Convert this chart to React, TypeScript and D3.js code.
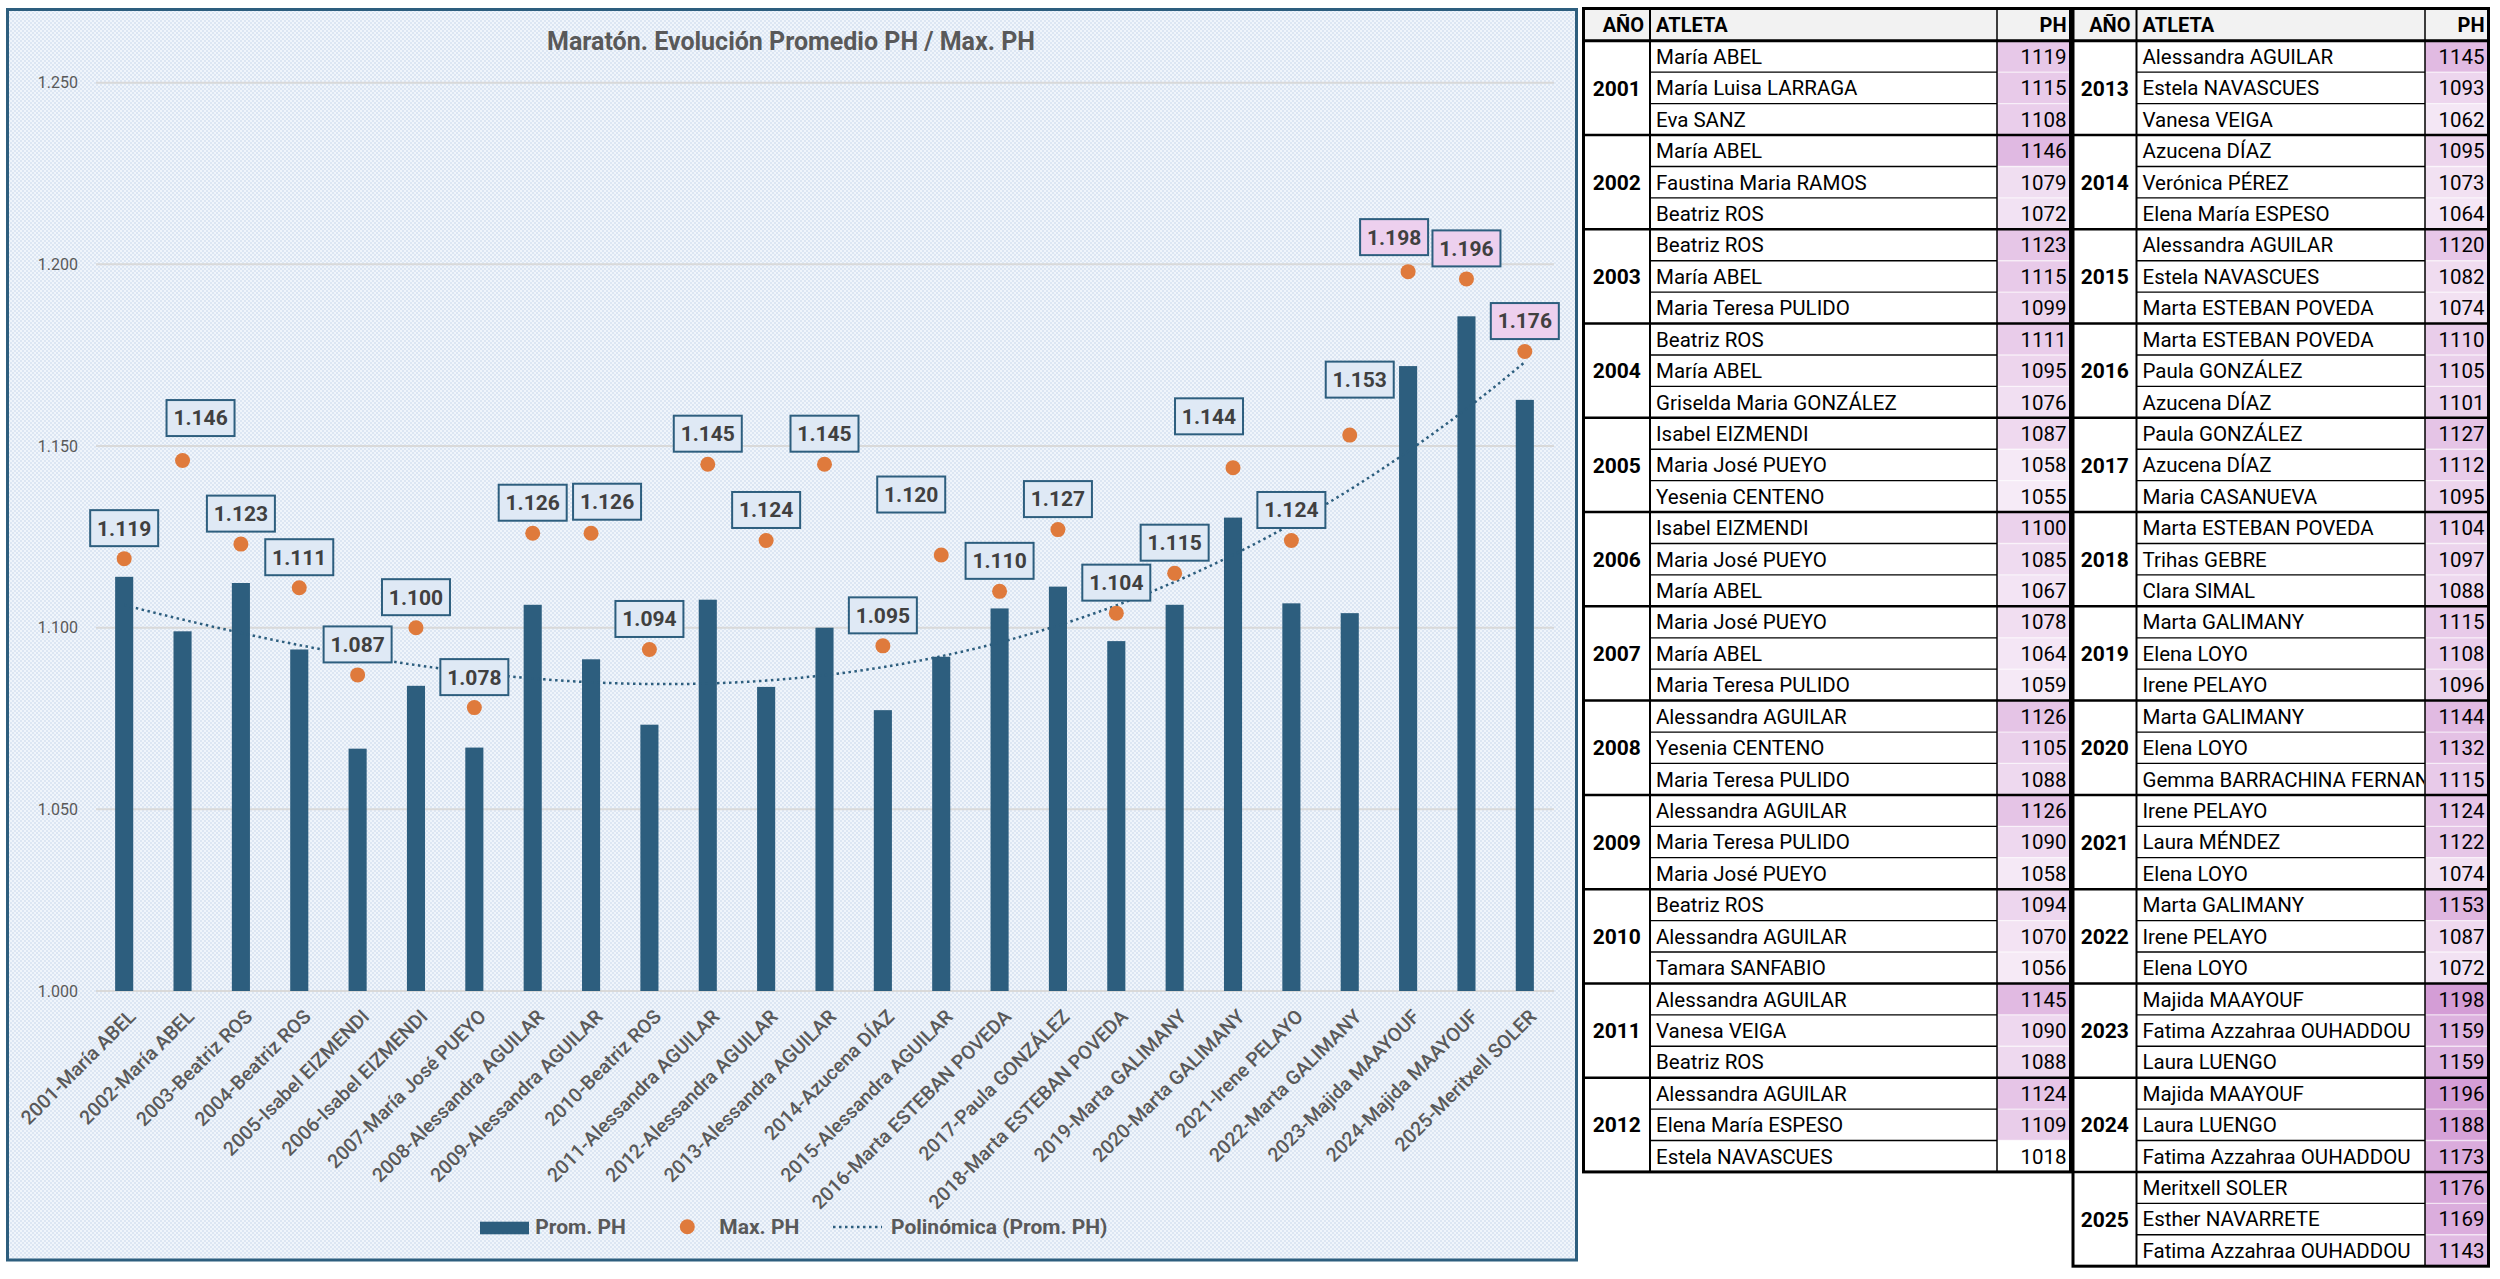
import React from 'react';
import * as d3 from 'd3';

// ---------------- DATA ----------------
const categories = [
  '2001-María ABEL', '2002-María ABEL', '2003-Beatriz ROS', '2004-Beatriz ROS',
  '2005-Isabel EIZMENDI', '2006-Isabel EIZMENDI', '2007-María José PUEYO',
  '2008-Alessandra AGUILAR', '2009-Alessandra AGUILAR', '2010-Beatriz ROS',
  '2011-Alessandra AGUILAR', '2012-Alessandra AGUILAR', '2013-Alessandra AGUILAR',
  '2014-Azucena DÍAZ', '2015-Alessandra AGUILAR', '2016-Marta ESTEBAN POVEDA',
  '2017-Paula GONZÁLEZ', '2018-Marta ESTEBAN POVEDA', '2019-Marta GALIMANY',
  '2020-Marta GALIMANY', '2021-Irene PELAYO', '2022-Marta GALIMANY',
  '2023-Majida MAAYOUF', '2024-Majida MAAYOUF', '2025-Meritxell SOLER',
];

const promPH = [
  1114.0, 1099.0, 1112.3, 1094.0, 1066.7, 1084.0, 1067.0, 1106.3, 1091.3, 1073.3,
  1107.7, 1083.7, 1100.0, 1077.3, 1092.0, 1105.3, 1111.3, 1096.3, 1106.3, 1130.3,
  1106.7, 1104.0, 1172.0, 1185.7, 1162.7,
];

const maxPH = [
  1119, 1146, 1123, 1111, 1087, 1100, 1078, 1126, 1126, 1094, 1145, 1124, 1145,
  1095, 1120, 1110, 1127, 1104, 1115, 1144, 1124, 1153, 1198, 1196, 1176,
];

const yTicks = [1000, 1050, 1100, 1150, 1200, 1250];

const chartTitle = 'Maratón. Evolución Promedio PH / Max. PH';
const legendLabels = ['Prom. PH', 'Max. PH', 'Polinómica (Prom. PH)'];

const tableHeaders = ['AÑO', 'ATLETA', 'PH'];
const tableYears = [
  2001, 2002, 2003, 2004, 2005, 2006, 2007, 2008, 2009, 2010, 2011, 2012,
  2013, 2014, 2015, 2016, 2017, 2018, 2019, 2020, 2021, 2022, 2023, 2024, 2025,
];
const tableAthletes = [
  ['María ABEL', 'María Luisa LARRAGA', 'Eva SANZ'],
  ['María ABEL', 'Faustina Maria RAMOS', 'Beatriz ROS'],
  ['Beatriz ROS', 'María ABEL', 'Maria Teresa PULIDO'],
  ['Beatriz ROS', 'María ABEL', 'Griselda Maria GONZÁLEZ'],
  ['Isabel EIZMENDI', 'Maria José PUEYO', 'Yesenia CENTENO'],
  ['Isabel EIZMENDI', 'Maria José PUEYO', 'María ABEL'],
  ['Maria José PUEYO', 'María ABEL', 'Maria Teresa PULIDO'],
  ['Alessandra AGUILAR', 'Yesenia CENTENO', 'Maria Teresa PULIDO'],
  ['Alessandra AGUILAR', 'Maria Teresa PULIDO', 'Maria José PUEYO'],
  ['Beatriz ROS', 'Alessandra AGUILAR', 'Tamara SANFABIO'],
  ['Alessandra AGUILAR', 'Vanesa VEIGA', 'Beatriz ROS'],
  ['Alessandra AGUILAR', 'Elena María ESPESO', 'Estela NAVASCUES'],
  ['Alessandra AGUILAR', 'Estela NAVASCUES', 'Vanesa VEIGA'],
  ['Azucena DÍAZ', 'Verónica PÉREZ', 'Elena María ESPESO'],
  ['Alessandra AGUILAR', 'Estela NAVASCUES', 'Marta ESTEBAN POVEDA'],
  ['Marta ESTEBAN POVEDA', 'Paula GONZÁLEZ', 'Azucena DÍAZ'],
  ['Paula GONZÁLEZ', 'Azucena DÍAZ', 'Maria CASANUEVA'],
  ['Marta ESTEBAN POVEDA', 'Trihas GEBRE', 'Clara SIMAL'],
  ['Marta GALIMANY', 'Elena LOYO', 'Irene PELAYO'],
  ['Marta GALIMANY', 'Elena LOYO', 'Gemma BARRACHINA FERNAN'],
  ['Irene PELAYO', 'Laura MÉNDEZ', 'Elena LOYO'],
  ['Marta GALIMANY', 'Irene PELAYO', 'Elena LOYO'],
  ['Majida MAAYOUF', 'Fatima Azzahraa OUHADDOU', 'Laura LUENGO'],
  ['Majida MAAYOUF', 'Laura LUENGO', 'Fatima Azzahraa OUHADDOU'],
  ['Meritxell SOLER', 'Esther NAVARRETE', 'Fatima Azzahraa OUHADDOU'],
];
const tablePH = [
  [1119, 1115, 1108], [1146, 1079, 1072], [1123, 1115, 1099], [1111, 1095, 1076],
  [1087, 1058, 1055], [1100, 1085, 1067], [1078, 1064, 1059], [1126, 1105, 1088],
  [1126, 1090, 1058], [1094, 1070, 1056], [1145, 1090, 1088], [1124, 1109, 1018],
  [1145, 1093, 1062], [1095, 1073, 1064], [1120, 1082, 1074], [1110, 1105, 1101],
  [1127, 1112, 1095], [1104, 1097, 1088], [1115, 1108, 1096], [1144, 1132, 1115],
  [1124, 1122, 1074], [1153, 1087, 1072], [1198, 1159, 1159], [1196, 1188, 1173],
  [1176, 1169, 1143],
];

// ---------------- LAYOUT / STYLE ----------------
const FONT = "Roboto, 'Open Sans', Arial, sans-serif";
const BLUE = '#2d5e7e';
const ORANGE = '#df7a3c';
const GRAY = '#595959';
// manual label nudges (px): [dx, extra up]
const labelNudge: Record<number, [number, number]> = {
  1: [18, 12], 8: [16, 1], 14: [-30, 30], 19: [-24, 21], 21: [10, 25], 22: [-14, 4],
};
const pinkLabelFrom = 22;

function polyFit(xs: number[], ys: number[], order: number): number[] {
  const n = order + 1;
  const A: number[][] = Array.from({ length: n }, () => new Array(n + 1).fill(0));
  xs.forEach((xv, k) => {
    const pw = [1];
    for (let j = 1; j < 2 * n; j++) pw.push(pw[j - 1] * xv);
    for (let r = 0; r < n; r++) {
      for (let c = 0; c < n; c++) A[r][c] += pw[r + c];
      A[r][n] += pw[r] * ys[k];
    }
  });
  for (let i = 0; i < n; i++) {
    let p = i;
    for (let r = i + 1; r < n; r++) if (Math.abs(A[r][i]) > Math.abs(A[p][i])) p = r;
    [A[i], A[p]] = [A[p], A[i]];
    for (let r = 0; r < n; r++) {
      if (r === i) continue;
      const f = A[r][i] / A[i][i];
      for (let c = i; c <= n; c++) A[r][c] -= f * A[i][c];
    }
  }
  return A.map((row, i) => row[n] / row[i]);
}

export default function App() {
  const x = d3.scaleBand<string>().domain(categories).range([95, 1554]).paddingInner(0.69).paddingOuter(0.345);
  const y = d3.scaleLinear().domain([1000, 1250]).range([991, 82.7]);
  const fmt = d3.formatLocale({ decimal: ',', thousands: '.', grouping: [3], currency: ['', ''] }).format(',');
  const bw = x.bandwidth();
  const cx = (i: number) => (x(categories[i]) as number) + bw / 2;
  const step = x.step();

  const mid = (promPH.length - 1) / 2;
  const coef = polyFit(promPH.map((_, i) => i - mid), promPH, 3);
  const poly = (t: number) => coef.reduce((s, c, k) => s + c * Math.pow(t, k), 0);
  const trendPts: [number, number][] = d3.range(0, promPH.length - 1 + 0.001, 0.2).map((u) => [cx(0) + u * step, y(poly(u - mid))]);
  const trendPath = d3.line()(trendPts) || '';

  // table
  const allPH = tablePH.flat();
  const [phMin, phMax] = d3.extent(allPH) as [number, number];
  const phColor = d3.scaleLinear<string>().domain([phMin, phMax]).range(['#ffffff', '#d49dd6']);
  const tTop = 8.5;
  const headH = 32.3;
  const rowH = 31.42;
  const tables = [
    { cols: [1583.5, 1650, 1997, 2070.5], groups: d3.range(0, 12) },
    { cols: [2073, 2136.5, 2425, 2488.5], groups: d3.range(12, 25) },
  ];

  const labelW = 68, labelH = 36;

  return (
    <svg width={2500} height={1279} style={{ position: 'absolute', left: 0, top: 0, background: '#fff' }} fontFamily={FONT}>
      <defs>
        <pattern id="bgp" width={4} height={4} patternUnits="userSpaceOnUse">
          <rect width={4} height={4} fill="#f0f5fb" />
          <rect width={2} height={2} fill="#dce6f3" />
          <rect x={2} y={2} width={2} height={2} fill="#dce6f3" />
        </pattern>
        {tables.map((tb, ti) => (
          <clipPath id={`nameclip${ti}`} key={ti}>
            <rect x={tb.cols[1]} y={0} width={tb.cols[2] - tb.cols[1] - 1} height={1279} />
          </clipPath>
        ))}
      </defs>

      {/* chart frame */}
      <rect x={7.5} y={9.5} width={1569} height={1250.5} fill="url(#bgp)" stroke={BLUE} strokeWidth={3} />
      <text x={791} y={50} textAnchor="middle" fontSize={25} fontWeight="bold" fill={GRAY}>{chartTitle}</text>

      {/* grid + y labels */}
      {yTicks.map((t) => (
        <g key={t}>
          <line x1={96} x2={1554} y1={y(t)} y2={y(t)} stroke="#d9d9d9" strokeWidth={2} />
          <text x={78} y={y(t) + 5.7} textAnchor="end" fontSize={16} fill={GRAY}>{fmt(t)}</text>
        </g>
      ))}

      {/* bars */}
      {promPH.map((v, i) => (
        <rect key={i} x={x(categories[i])} y={y(v)} width={bw} height={y(1000) - y(v)} fill={BLUE} />
      ))}

      {/* trend */}
      <path d={trendPath} fill="none" stroke={BLUE} strokeWidth={2.5} strokeDasharray="2.5 3.5" />

      {/* markers */}
      {maxPH.map((v, i) => (
        <circle key={i} cx={cx(i)} cy={y(v)} r={7.5} fill={ORANGE} />
      ))}

      {/* data labels */}
      {maxPH.map((v, i) => {
        const [dx, du] = labelNudge[i] || [0, 0];
        const bx = cx(i) + dx - labelW / 2;
        const by = y(v) - 12.5 - du - labelH;
        const pink = i >= pinkLabelFrom;
        return (
          <g key={i}>
            <rect x={bx} y={by} width={labelW} height={labelH} fill={pink ? '#edd0ee' : '#dfe9f5'} stroke={BLUE} strokeWidth={2} />
            <text x={bx + labelW / 2} y={by + labelH / 2 + 7.4} textAnchor="middle" fontSize={21} fontWeight="bold" fill="#404040">{fmt(v)}</text>
          </g>
        );
      })}

      {/* x labels */}
      {categories.map((c, i) => (
        <text key={c} transform={`translate(${cx(i) + 8},${y(1000) + 22}) rotate(-45)`} textAnchor="end" dy="0.35em" fontSize={19.5} fontWeight={500} fill={GRAY}>{c}</text>
      ))}

      {/* legend */}
      <rect x={480} y={1221.7} width={49} height={12.6} fill={BLUE} />
      <text x={535.3} y={1233.5} fontSize={21} fontWeight="bold" fill={GRAY}>{legendLabels[0]}</text>
      <circle cx={687.3} cy={1226.7} r={7.5} fill={ORANGE} />
      <text x={719.3} y={1233.5} fontSize={21} fontWeight="bold" fill={GRAY}>{legendLabels[1]}</text>
      <line x1={833} x2={882} y1={1227} y2={1227} stroke={BLUE} strokeWidth={2.5} strokeDasharray="2.5 3.5" />
      <text x={891} y={1233.5} fontSize={21} fontWeight="bold" fill={GRAY}>{legendLabels[2]}</text>

      {/* tables */}
      {tables.map((tb, ti) => {
        const [c0, c1, c2, c3] = tb.cols;
        const nRows = tb.groups.length * 3;
        const bottom = tTop + headH + nRows * rowH;
        return (
          <g key={ti}>
            <rect x={c0} y={tTop} width={c3 - c0} height={headH} fill="#f2f2f2" />
            <rect x={c0} y={tTop + headH} width={c3 - c0} height={nRows * rowH} fill="#fff" />
            {tb.groups.map((g, gi) =>
              tablePH[g].map((v, r) => {
                const ry = tTop + headH + (gi * 3 + r) * rowH;
                return <rect key={`${g}-${r}`} x={c2} y={ry} width={c3 - c2} height={rowH} fill={phColor(v)} />;
              })
            )}
            {/* headers */}
            <text x={c1 - 6} y={tTop + headH / 2 + 7.2} textAnchor="end" fontSize={20} fontWeight="bold" fill="#000">{tableHeaders[0]}</text>
            <text x={c1 + 6} y={tTop + headH / 2 + 7.2} fontSize={20} fontWeight="bold" fill="#000">{tableHeaders[1]}</text>
            <text x={c3 - 4} y={tTop + headH / 2 + 7.2} textAnchor="end" fontSize={20} fontWeight="bold" fill="#000">{tableHeaders[2]}</text>
            {tb.groups.map((g, gi) => {
              const gy = tTop + headH + gi * 3 * rowH;
              return (
                <g key={g}>
                  <text x={(c0 + c1) / 2} y={gy + 1.5 * rowH + 7.6} textAnchor="middle" fontSize={21} fontWeight="bold" fill="#000">{tableYears[g]}</text>
                  {tableAthletes[g].map((nm, r) => (
                    <text key={r} x={c1 + 6} y={gy + r * rowH + rowH / 2 + 7.4} fontSize={20.5} fill="#000" clipPath={`url(#nameclip${ti})`}>{nm}</text>
                  ))}
                  {tablePH[g].map((v, r) => (
                    <text key={r} x={c3 - 4} y={gy + r * rowH + rowH / 2 + 7.4} textAnchor="end" fontSize={20.5} fill="#000">{v}</text>
                  ))}
                  {[1, 2].map((r) => (
                    <g key={r}>
                      <line x1={c1} x2={c2} y1={gy + r * rowH} y2={gy + r * rowH} stroke="#000" strokeWidth={1.3} />
                      <line x1={c2} x2={c3} y1={gy + r * rowH} y2={gy + r * rowH} stroke="#ffffff" strokeOpacity={0.6} strokeWidth={1.3} />
                    </g>
                  ))}
                  {gi > 0 && <line x1={c0} x2={c3} y1={gy} y2={gy} stroke="#000" strokeWidth={2.5} />}
                </g>
              );
            })}
            <line x1={c0} x2={c3} y1={tTop + headH} y2={tTop + headH} stroke="#000" strokeWidth={3} />
            <line x1={c1} x2={c1} y1={tTop} y2={bottom} stroke="#000" strokeWidth={2} />
            <line x1={c2} x2={c2} y1={tTop} y2={bottom} stroke="#000" strokeWidth={1.5} />
            <rect x={c0} y={tTop} width={c3 - c0} height={bottom - tTop} fill="none" stroke="#000" strokeWidth={3} />
          </g>
        );
      })}
    </svg>
  );
}
